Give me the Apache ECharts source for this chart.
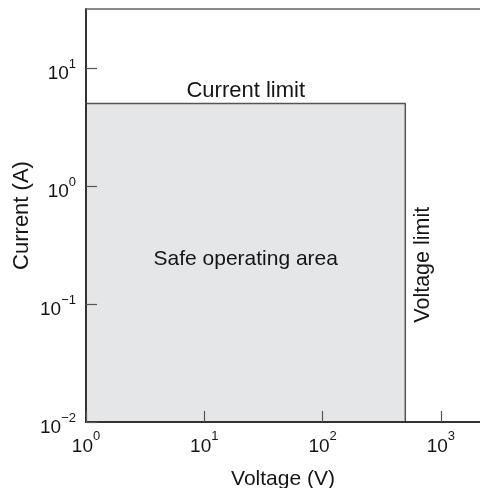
<!DOCTYPE html>
<html><head><meta charset="utf-8">
<script src="https://cdn.jsdelivr.net/npm/echarts@6/dist/echarts.min.js"></script>
<style>html,body{margin:0;padding:0;background:#fff}#c{width:480px;height:488px}</style>
</head><body><div id="c"></div>
<script>
// ---- data ----
const xTickValues = [1, 10, 100, 1000];        // Voltage (V) ticks
const yTickValues = [0.01, 0.1, 1, 10];        // Current (A) ticks
const xRange = [1, 2140];
const yRange = [0.01, 31.6];
const voltageLimit = 500;    // V
const currentLimit = 5;      // A
const minVoltage = 1;
const minCurrent = 0.01;
const annotationTexts = ['Current limit', 'Safe operating area', 'Voltage limit'];
const annotationX = [22.4, 22.4, 500];
const annotationY = [5, 0.24, 0.215];

const FONT = '"Liberation Sans", Arial, Helvetica, sans-serif';
const INK = '#151515';
function supLabel(v) {
  const e = Math.round(Math.log10(v));
  if (Math.abs(Math.log10(v) - e) > 1e-6) return '';
  const s = e < 0 ? '\u2212' + (-e) : String(e);
  return '{b|10}{s|' + s + '}';
}
const rich = {
  b: {fontSize: 19, lineHeight: 26, verticalAlign: 'bottom', color: INK, fontFamily: FONT},
  s: {fontSize: 13, lineHeight: 13, verticalAlign: 'top', color: INK, fontFamily: FONT}
};

const chart = echarts.init(document.getElementById('c'), null, {renderer: 'canvas'});
chart.setOption({
  animation: false,
  backgroundColor: '#fff',
  grid: {left: 86, right: 0, top: 9, bottom: 66, containLabel: false, outerBoundsMode: 'none'},
  xAxis: [{
    type: 'log', logBase: 10, min: xRange[0], max: xRange[1], z: 10,
    name: 'Voltage (V)', nameLocation: 'middle', nameGap: 47,
    nameTextStyle: {fontSize: 21, color: INK, fontFamily: FONT},
    axisLine: {show: true, lineStyle: {color: '#333', width: 2}},
    axisTick: {show: true, inside: true, length: 11, customValues: xTickValues, lineStyle: {color: '#555', width: 1.2}},
    axisLabel: {show: true, margin: 8, fontSize: 19, color: INK, fontFamily: FONT, customValues: xTickValues, formatter: supLabel, rich: rich},
    splitLine: {show: false}, minorTick: {show: false}
  }, {
    type: 'log', logBase: 10, min: xRange[0], max: xRange[1], position: 'top', z: 10,
    axisLine: {show: true, lineStyle: {color: '#666', width: 1.5}},
    axisTick: {show: false}, axisLabel: {show: false}, splitLine: {show: false}
  }],
  yAxis: {
    type: 'log', logBase: 10, min: yRange[0], max: yRange[1], z: 10,
    name: 'Current (A)', nameLocation: 'middle', nameGap: 53, nameMoveOverlap: false,
    nameTextStyle: {fontSize: 22, color: INK, fontFamily: FONT},
    axisLine: {show: true, lineStyle: {color: '#333', width: 2}},
    axisTick: {show: true, inside: true, length: 11, customValues: yTickValues, lineStyle: {color: '#555', width: 1.2}},
    axisLabel: {show: true, margin: 10, fontSize: 19, color: INK, fontFamily: FONT, padding: [5, 0, 0, 0], customValues: yTickValues, formatter: supLabel, rich: rich},
    splitLine: {show: false}, minorTick: {show: false}
  },
  series: [{
    type: 'line', z: 3, symbol: 'none',
    data: [[minVoltage, currentLimit], [voltageLimit, currentLimit], [voltageLimit, minCurrent]],
    lineStyle: {color: '#555', width: 1.5},
    markArea: {
      silent: true,
      itemStyle: {color: '#e5e6e8', borderWidth: 0},
      data: [[{coord: [minVoltage, minCurrent]}, {coord: [voltageLimit, currentLimit]}]]
    }
  }, {
    type: 'scatter', z: 5, symbolSize: 0,
    itemStyle: {opacity: 1},
    data: annotationTexts.map((t, i) => ({
      value: [annotationX[i], annotationY[i]],
      label: i === 0 ? {position: 'top', distance: 2, fontSize: 22}
           : i === 1 ? {position: 'inside', fontSize: 21}
           : {position: 'inside', rotate: 90, offset: [0, 18], fontSize: 21.5}
    })),
    label: {
      show: true, color: INK, opacity: 1, fontFamily: FONT,
      formatter: p => annotationTexts[p.dataIndex]
    }
  }]
});
</script>
</body></html>
